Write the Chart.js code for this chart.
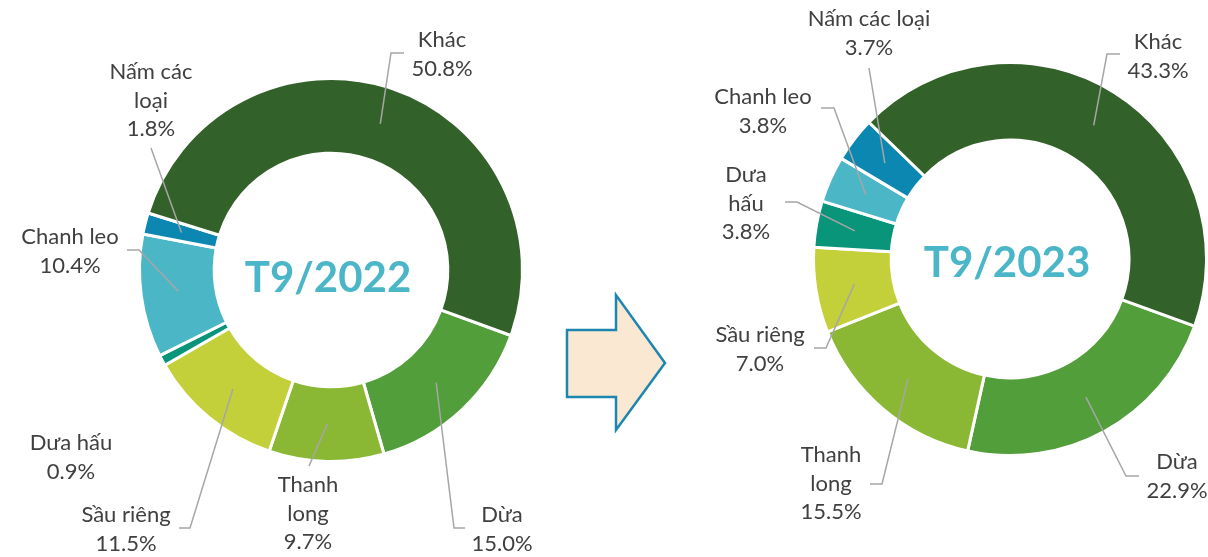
<!DOCTYPE html>
<html>
<head>
<meta charset="utf-8">
<script src="https://cdn.jsdelivr.net/npm/chart.js@4.4.0/dist/chart.umd.min.js"></script>
<style>
  body { margin: 0; background: #fff; }
  #wrap { position: relative; width: 1208px; height: 557px; overflow: hidden; }
  canvas { position: absolute; top: 0; }
  #arrow { position: absolute; left: 0; top: 0; }
</style>
</head>
<body>
<div id="wrap">
  <svg id="arrow" width="1208" height="557">
    <polygon points="567,330 616,330 616,295 665,363 616,430 616,397 567,397"
      fill="#FBE8D3" stroke="#1C86AF" stroke-width="2.5" stroke-linejoin="miter" />
  </svg>
  <canvas id="chart2022" width="600" height="557" style="left:0px"></canvas>
  <canvas id="chart2023" width="608" height="557" style="left:600px"></canvas>
</div>

<script>
// Data
const categories = ["Dừa", "Thanh long", "Sầu riêng", "Dưa hấu", "Chanh leo", "Nấm các loại", "Khác"];
const share2022 = [15.0, 9.7, 11.5, 0.9, 10.4, 1.8, 50.8];
const share2023 = [22.9, 15.5, 7.0, 3.8, 3.8, 3.7, 43.3];
const title2022 = "T9/2022";
const title2023 = "T9/2023";

const sliceColors = ["#529E3A", "#8AB834", "#C4D03A", "#08957A", "#4BB6C6", "#0C87B2", "#33612A"];

// label placement per chart (x, first line y, wrap width, leader line start/elbow)
const layout2022 = [
  { x: 502, y: 515, w: 200, leader: [[465, 528], [454, 528]] },
  { x: 308, y: 485, w: 70, leader: [[309, 466]] },
  { x: 126, y: 515, w: 200, leader: [[179, 528], [190, 528]] },
  { x: 71, y: 443, w: 200, leader: null },
  { x: 70, y: 237, w: 200, leader: [[127, 250], [139, 250]] },
  { x: 151, y: 72, w: 100, leader: [[151, 148]] },
  { x: 442, y: 40, w: 200, leader: [[404, 53], [391, 53]] },
];
const layout2023 = [
  { x: 577, y: 462, w: 200, leader: [[539, 476], [526, 476]] },
  { x: 231, y: 455, w: 70, leader: [[270, 484], [282, 484]] },
  { x: 160, y: 335, w: 200, leader: [[214, 348], [226, 348]] },
  { x: 146, y: 175, w: 50, leader: [[185, 202], [197, 202]] },
  { x: 163, y: 97, w: 200, leader: [[221, 108], [234, 108]] },
  { x: 269, y: 19, w: 200, leader: [[269, 68]] },
  { x: 558, y: 42, w: 200, leader: [[520, 54], [507, 54]] },
];

const labelFont = "22px Lato";
const lineH = 28.5;

function wrapWords(ctx, text, maxW) {
  const words = text.split(" ");
  const lines = [];
  let cur = "";
  words.forEach((w) => {
    const test = cur ? cur + " " + w : w;
    if (cur && ctx.measureText(test).width > maxW) {
      lines.push(cur);
      cur = w;
    } else {
      cur = test;
    }
  });
  if (cur) lines.push(cur);
  return lines;
}

const labelPlugin = {
  id: "sliceLabels",
  afterDatasetsDraw(chart, args, opts) {
    const ctx = chart.ctx;
    const meta = chart.getDatasetMeta(0);
    const values = chart.data.datasets[0].data;
    ctx.save();

    // centre title
    const c = meta.data[0];
    ctx.font = "bold 42px Lato";
    ctx.fillStyle = "#4AB6C7";
    ctx.textAlign = "center";
    ctx.textBaseline = "middle";
    ctx.fillText(opts.title, c.x - 3, c.y + opts.titleDy);

    ctx.font = labelFont;
    meta.data.forEach((arc, i) => {
      const pos = opts.layout[i];
      const p = arc.getCenterPoint();
      if (pos.leader) {
        ctx.strokeStyle = "#A6A6A6";
        ctx.lineWidth = 1.5;
        ctx.beginPath();
        ctx.moveTo(pos.leader[0][0], pos.leader[0][1]);
        pos.leader.slice(1).forEach((pt) => ctx.lineTo(pt[0], pt[1]));
        ctx.lineTo(p.x, p.y);
        ctx.stroke();
      }
      const lines = wrapWords(ctx, chart.data.labels[i], pos.w);
      lines.push(values[i].toFixed(1) + "%");
      ctx.fillStyle = "#404040";
      lines.forEach((t, k) => ctx.fillText(t, pos.x, pos.y + k * lineH));
    });
    ctx.restore();
  },
};

function makeDonut(id, values, title, layout, padding, cutout, titleDy) {
  return new Chart(document.getElementById(id), {
    type: "doughnut",
    data: {
      labels: categories,
      datasets: [
        {
          data: values,
          backgroundColor: sliceColors,
          borderColor: "#ffffff",
          borderWidth: 3,
        },
      ],
    },
    options: {
      responsive: false,
      animation: false,
      rotation: 110,
      cutout: cutout,
      layout: { padding: padding },
      plugins: {
        legend: { display: false },
        tooltip: { enabled: false },
        sliceLabels: { title: title, layout: layout, titleDy: titleDy },
      },
    },
    plugins: [labelPlugin],
  });
}

makeDonut("chart2022", share2022, title2022, layout2022,
  { left: 138, right: 76, top: 77, bottom: 94 }, "61%", 8);
makeDonut("chart2023", share2023, title2023, layout2023,
  { left: 212, right: 0, top: 61, bottom: 100 }, "60.5%", 4);
</script>
</body>
</html>
